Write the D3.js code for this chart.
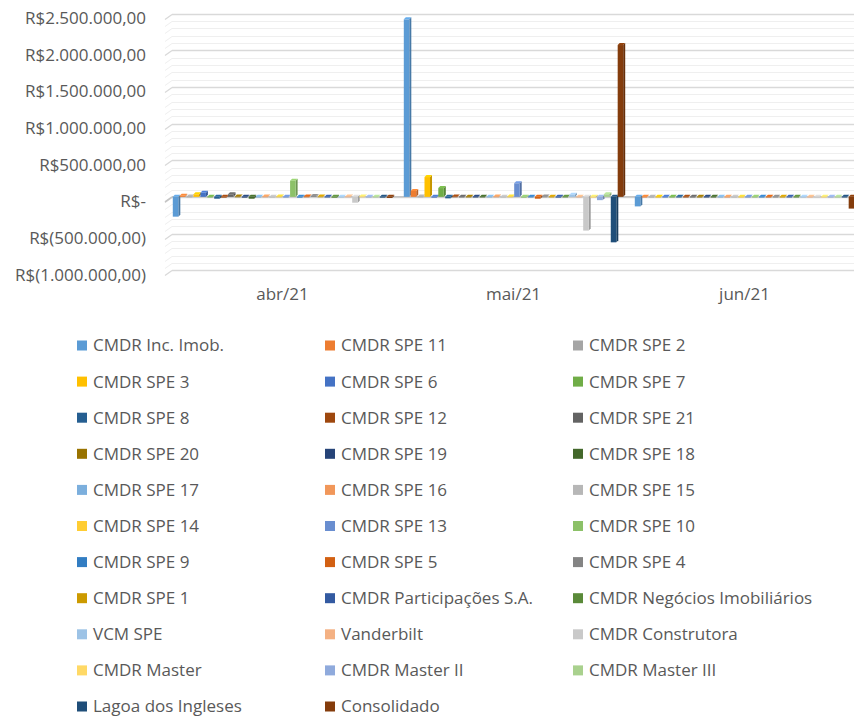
<!DOCTYPE html>
<html>
<head>
<meta charset="utf-8">
<script src="https://cdn.jsdelivr.net/npm/d3@7"></script>
<style>
  html, body { margin: 0; padding: 0; background: #fff; }
  svg { display: block; font-family: "Open Sans", sans-serif; }
</style>
</head>
<body>
<svg id="chart" width="854" height="717"></svg>
<script>
const categories = ["abr/21", "mai/21", "jun/21"];

const seriesNames = [
  "CMDR Inc. Imob.", "CMDR SPE 11", "CMDR SPE 2",
  "CMDR SPE 3", "CMDR SPE 6", "CMDR SPE 7",
  "CMDR SPE 8", "CMDR SPE 12", "CMDR SPE 21",
  "CMDR SPE 20", "CMDR SPE 19", "CMDR SPE 18",
  "CMDR SPE 17", "CMDR SPE 16", "CMDR SPE 15",
  "CMDR SPE 14", "CMDR SPE 13", "CMDR SPE 10",
  "CMDR SPE 9", "CMDR SPE 5", "CMDR SPE 4",
  "CMDR SPE 1", "CMDR Participações S.A.", "CMDR Negócios Imobiliários",
  "VCM SPE", "Vanderbilt", "CMDR Construtora",
  "CMDR Master", "CMDR Master II", "CMDR Master III",
  "Lagoa dos Ingleses", "Consolidado"
];

const seriesColors = [
  "#5B9BD5", "#ED7D31", "#A5A5A5",
  "#FFC000", "#4472C4", "#70AD47",
  "#255E91", "#9E480E", "#636363",
  "#997300", "#264478", "#43682B",
  "#7CAFDD", "#F1975A", "#B7B7B7",
  "#FFCD33", "#698ED0", "#8CC168",
  "#327DC2", "#D26012", "#848484",
  "#CC9A00", "#335AA1", "#5A8A39",
  "#9DC3E6", "#F4B183", "#C9C9C9",
  "#FFD966", "#8FAADC", "#A9D18E",
  "#1F4E79", "#843C0C"
];

// values per series for each month
const valuesAbr = [
  -270000, 15000, 5000, 35000, 55000, 3000, -25000, -8000, 35000, 5000, -5000,
  -25000, 2000, 5000, 2000, 5000, 2000, 220000, -5000, 5000, 12000, 5000, 2000,
  -12000, 2000, 5000, -80000, 5000, 2000, 3000, -8000, -15000
];
const valuesMai = [
  2420000, 80000, 5000, 270000, -5000, 120000, -20000, 5000, 3000, 3000, 2000,
  3000, 3000, 5000, 3000, 5000, 185000, -5000, 3000, -25000, 5000, 3000, -5000,
  3000, 30000, 3000, -460000, -10000, -45000, 35000, -620000, 2070000
];
const valuesJun = [
  -130000, 2000, 2000, 2000, 2000, 2000, 2000, 2000, 2000, 2000, 2000,
  2000, 2000, 2000, 2000, 2000, 2000, 2000, 2000, 2000, 2000, 2000, 2000,
  2000, 2000, 2000, 2000, 2000, 2000, 2000, 2000, -160000
];

const yTickValues = [-1000000, -500000, 0, 500000, 1000000, 1500000, 2000000, 2500000];
const yTickLabels = ["R$(1.000.000,00)", "R$(500.000,00)", "R$-", "R$500.000,00",
  "R$1.000.000,00", "R$1.500.000,00", "R$2.000.000,00", "R$2.500.000,00"];

const allValues = [valuesAbr, valuesMai, valuesJun];

const svg = d3.select("#chart");
const textColor = "#595959";

const plotLeft = 167, plotRight = 860;
const wallLeft = 172;
const y = d3.scaleLinear().domain([-1000000, 2500000]).range([270.2, 13.5]);
const x0 = d3.scaleBand().domain(categories).range([plotLeft, plotRight]).padding(0);
const x1 = d3.scaleBand().domain(d3.range(seriesNames.length))
  .range([0, x0.bandwidth()]).paddingInner(0.2).paddingOuter(0.84);

// gridlines (minor and major)
const minorTicks = d3.range(-1000000, 2500001, 100000);
const grid = svg.append("g");
minorTicks.forEach(v => {
  const major = v % 500000 === 0;
  const yy = Math.round(y(v)) + 0.5;
  const col = major ? "#d9d9d9" : "#efefef";
  grid.append("line").attr("x1", wallLeft).attr("x2", 854)
    .attr("y1", yy).attr("y2", yy).attr("stroke", col).attr("stroke-width", major ? 1.3 : 1);
  grid.append("line").attr("x1", plotLeft - 2).attr("x2", wallLeft)
    .attr("y1", yy + 5).attr("y2", yy).attr("stroke", col).attr("stroke-width", major ? 1.3 : 1);
});

// floor line at zero
svg.append("line").attr("x1", plotLeft - 2).attr("x2", wallLeft)
  .attr("y1", y(0) + 5).attr("y2", y(0)).attr("stroke", "#c4c4c4").attr("stroke-width", 1.5);
svg.append("line").attr("x1", wallLeft).attr("x2", 854)
  .attr("y1", y(0)).attr("y2", y(0)).attr("stroke", "#c4c4c4").attr("stroke-width", 1.5);

// y-axis labels
const yAxis = d3.axisLeft(y).tickValues(yTickValues)
  .tickFormat((d, i) => yTickLabels[i]).tickSize(0).tickPadding(0);
const yg = svg.append("g").attr("transform", "translate(146,4.5)").call(yAxis);
yg.select(".domain").remove();
yg.selectAll("text").attr("fill", textColor).style("font-size", "17px")
  .style("font-family", "'Open Sans', sans-serif");

// x-axis labels
const xAxis = d3.axisBottom(x0).tickSize(0).tickPadding(0);
const xg = svg.append("g").attr("transform", "translate(0,288)").call(xAxis);
xg.select(".domain").remove();
xg.selectAll("text").attr("fill", textColor).style("font-size", "17px")
  .style("font-family", "'Open Sans', sans-serif");

// bars (pseudo-3D)
const depth = 2;
const bars = svg.append("g");
categories.forEach((cat, ci) => {
  seriesNames.forEach((name, si) => {
    const v = allValues[ci][si];
    const bx = x0(cat) + x1(si);
    const w = x1.bandwidth();
    const yTop = Math.min(y(v), y(0));
    const yBot = Math.max(y(v), y(0));
    const c = d3.color(seriesColors[si]);
    const g = bars.append("g");
    g.append("polygon").attr("points", [
      [bx + w, yTop], [bx + w + depth, yTop - depth],
      [bx + w + depth, yBot - depth], [bx + w, yBot]
    ].map(p => p.join(",")).join(" ")).attr("fill", c.darker(0.7));
    g.append("polygon").attr("points", [
      [bx, yTop], [bx + depth, yTop - depth],
      [bx + w + depth, yTop - depth], [bx + w, yTop]
    ].map(p => p.join(",")).join(" ")).attr("fill", c.brighter(0.3));
    g.append("rect").attr("x", bx).attr("y", yTop)
      .attr("width", w).attr("height", Math.max(0.8, yBot - yTop)).attr("fill", c);
  });
});

// legend
const legendCols = [77, 325, 573];
const legendY0 = 345.5, legendStep = 36.1;
const legend = svg.append("g");
seriesNames.forEach((name, i) => {
  const col = i % 3, row = Math.floor(i / 3);
  const lx = legendCols[col], ly = legendY0 + row * legendStep;
  legend.append("rect").attr("x", lx).attr("y", ly - 5).attr("width", 10).attr("height", 10)
    .attr("fill", seriesColors[i]);
  legend.append("text").attr("x", lx + 16).attr("y", ly).attr("dy", "0.35em")
    .attr("fill", textColor).style("font-size", "17px").text(name);
});
</script>
</body>
</html>
